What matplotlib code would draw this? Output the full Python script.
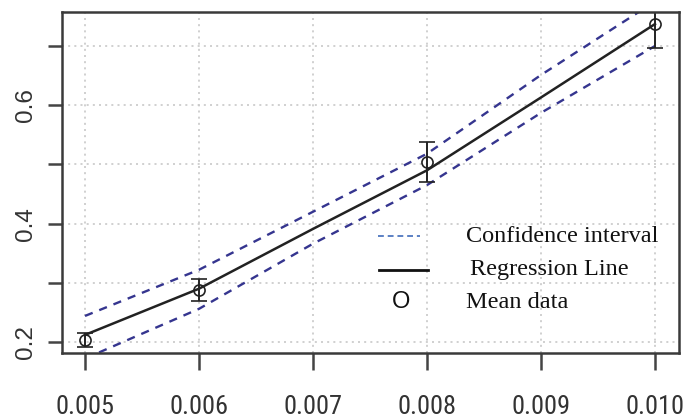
import matplotlib
matplotlib.use("Agg")
import matplotlib.pyplot as plt
from matplotlib.lines import Line2D
from matplotlib import font_manager

# ---- data ----
x_mean = [0.005, 0.006, 0.008, 0.010]
y_mean = [0.203, 0.288, 0.504, 0.737]
y_err = [0.012, 0.018, 0.033, 0.040]

x_fit = [0.005, 0.006, 0.007, 0.008, 0.009, 0.010]
y_fit = [0.212, 0.290, 0.391, 0.490, 0.613, 0.737]
y_upper = [0.244, 0.322, 0.420, 0.518, 0.651, 0.775]
y_lower = [0.172, 0.256, 0.366, 0.465, 0.587, 0.700]

x_ticks = [0.005, 0.006, 0.007, 0.008, 0.009, 0.010]
x_ticklabels = ["0.005", "0.006", "0.007", "0.008", "0.009", "0.010"]
y_ticks = [0.2, 0.3, 0.4, 0.5, 0.6, 0.7]
y_ticklabels = ["0.2", "", "0.4", "", "0.6", ""]

legend_labels = ["Confidence interval", "Regression Line", "Mean data"]

names = {f.name for f in font_manager.fontManager.ttflist}
cond = "Roboto Condensed" if "Roboto Condensed" in names else (
    "PT Sans Narrow" if "PT Sans Narrow" in names else "Liberation Sans")

W, H = 686, 419
fig = plt.figure(figsize=(W / 100, H / 100), dpi=100)
ax = fig.add_axes([62 / W, 1 - 353 / H, (679 - 62) / W, (353 - 12) / H])

ax.set_xlim(0.0047982, 0.010211)
ax.set_ylim(0.1814, 0.7574)

# grid
ax.set_xticks(x_ticks)
ax.set_yticks(y_ticks)
ax.grid(True, color="#c8c8c8", linestyle=(0, (1.2, 2.5)), linewidth=1.2)
ax.set_axisbelow(True)

band_color = "#35358f"
ax.plot(x_fit, y_upper, color=band_color, lw=1.7, linestyle=(0, (3.5, 3.0)))
ax.plot(x_fit, y_lower, color=band_color, lw=1.7, linestyle=(0, (3.5, 3.0)))
ax.plot(x_fit, y_fit, color="#222222", lw=1.8)

ax.errorbar(x_mean, y_mean, yerr=y_err, fmt="o", mfc="none", mec="#222222",
            ms=8, mew=1.2, ecolor="#222222", elinewidth=1.4, capsize=6, capthick=1.6)

for s in ax.spines.values():
    s.set_color("#3a3a3a")
    s.set_linewidth(1.8)

ax.set_xticklabels(x_ticklabels, fontfamily=cond, fontsize=19, color="#333333")
ax.set_yticklabels(y_ticklabels, fontfamily="Liberation Sans", fontsize=17.5,
                   color="#333333", rotation=90, va="center")
ax.tick_params(axis="x", length=12, width=1.8, color="#444444", pad=18)
ax.tick_params(axis="y", length=10, width=1.8, color="#444444", pad=8)

# legend (manual, no frame)
def fx(px):
    return px / W

def fy(py):
    return 1 - py / H

fig.add_artist(Line2D([fx(378), fx(420)], [fy(236), fy(236)], color="#5b80c4",
                      lw=1.4, linestyle=(0, (3, 2))))
fig.add_artist(Line2D([fx(379), fx(428)], [fy(270), fy(270)], color="#111111", lw=2.0))
fig.text(fx(401), fy(302), "O", fontfamily="Liberation Sans", fontsize=17,
         ha="center", va="center", color="#111111")
fig.text(fx(466), fy(236), legend_labels[0], fontfamily="Liberation Serif",
         fontsize=17.5, ha="left", va="center", color="#111111")
fig.text(fx(470), fy(270), legend_labels[1], fontfamily="Liberation Serif",
         fontsize=17.5, ha="left", va="center", color="#111111")
fig.text(fx(466), fy(302), legend_labels[2], fontfamily="Liberation Serif",
         fontsize=17.5, ha="left", va="center", color="#111111")

fig.savefig("out.png", dpi=100)
